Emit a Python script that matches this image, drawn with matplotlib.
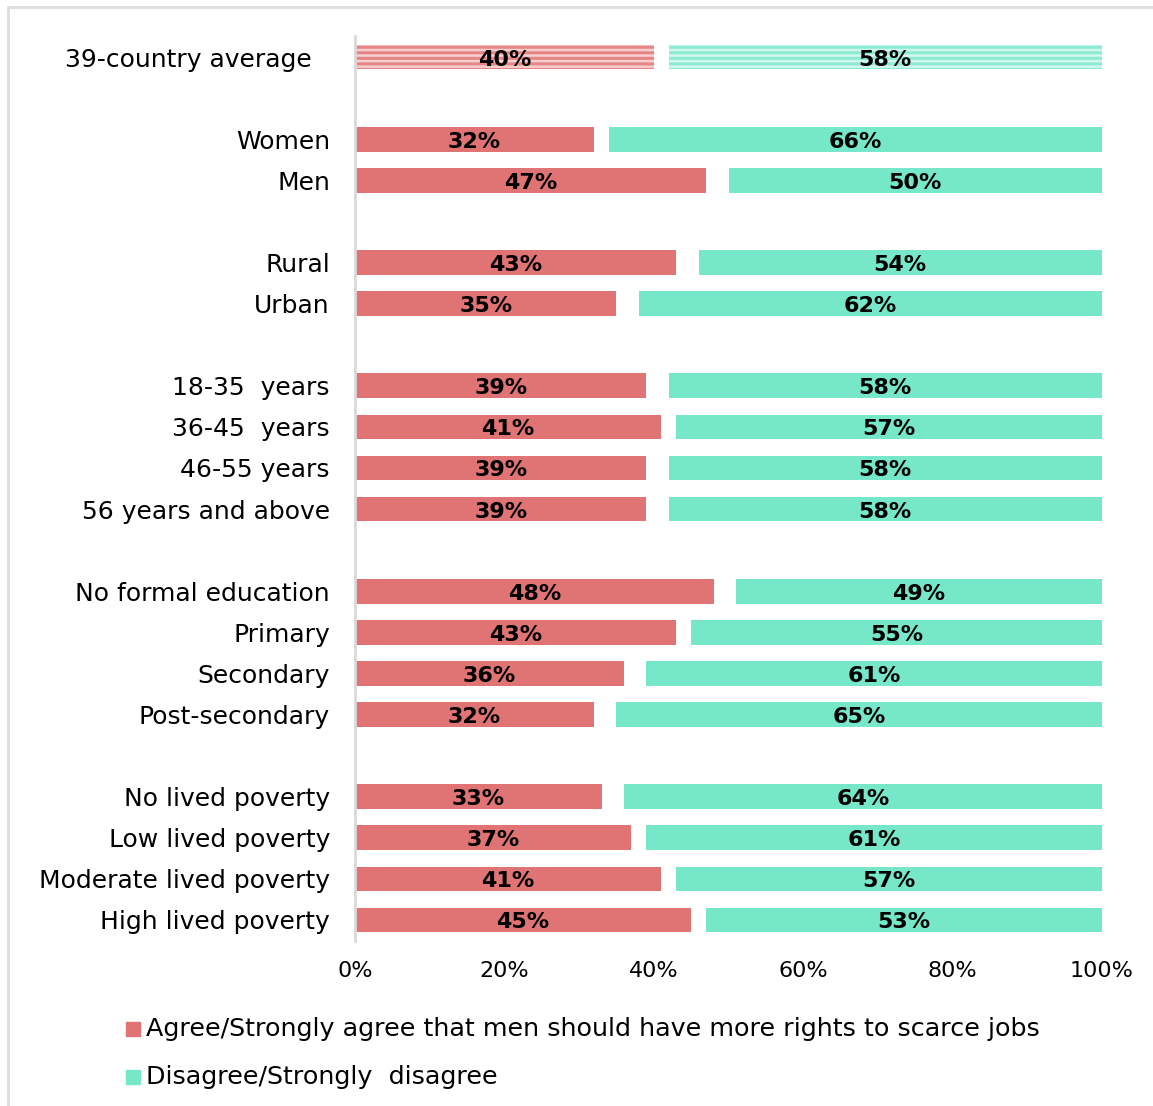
import matplotlib.pyplot as plt
from matplotlib.patches import Rectangle

# rows of the chart, top to bottom
categories = ["39-country average",
              "Women", "Men",
              "Rural", "Urban",
              "18-35  years", "36-45  years", "46-55 years", "56 years and above",
              "No formal education", "Primary", "Secondary", "Post-secondary",
              "No lived poverty", "Low lived poverty", "Moderate lived poverty", "High lived poverty"]
agree = [40, 32, 47, 43, 35, 39, 41, 39, 39, 48, 43, 36, 32, 33, 37, 41, 45]
disagree = [58, 66, 50, 54, 62, 58, 57, 58, 58, 49, 55, 61, 65, 64, 61, 57, 53]
# row slots, leaving an empty slot between groups
positions = [0, 2, 3, 5, 6, 8, 9, 10, 11, 13, 14, 15, 16, 18, 19, 20, 21]
ticks = [0, 20, 40, 60, 80, 100]
legend_labels = ["Agree/Strongly agree that men should have more rights to scarce jobs",
                 "Disagree/Strongly  disagree"]

red = "#E07373"
green = "#76E8C9"

plt.rcParams["font.family"] = ["DejaVu Sans"]
plt.rcParams["hatch.linewidth"] = 2.2

fig = plt.figure(figsize=(11.53, 11.06), dpi=100)
ax = fig.add_axes([355 / 1153, 1 - 940.5 / 1106, 747 / 1153, 904 / 1106])

# light frame round the whole chart
fig.patches.append(Rectangle((8 / 1153, -0.1), 1.2, 1 - 7 / 1106 + 0.1,
                             transform=fig.transFigure, fill=False,
                             edgecolor="#DDDDDD", linewidth=2))

h = 0.6
for i, (p, a, d) in enumerate(zip(positions, agree, disagree)):
    if i == 0:
        # average row is drawn striped
        ax.barh(p, a, height=h, color="#F8CFCF", edgecolor="#E58585", hatch="---", linewidth=0)
        ax.barh(p, d, left=100 - d, height=h, color="#D2F8EE", edgecolor="#8CEBD2", hatch="---", linewidth=0)
    else:
        ax.barh(p, a, height=h, color=red)
        ax.barh(p, d, left=100 - d, height=h, color=green)
    ax.text(a / 2, p + 0.06, f"{a}%", ha="center", va="center",
            fontsize=16, fontweight="bold")
    ax.text(100 - d / 2, p + 0.06, f"{d}%", ha="center", va="center",
            fontsize=16, fontweight="bold")

ax.set_xlim(0, 100)
ax.set_ylim(21.5, -0.5)
ax.set_xticks(ticks)
ax.set_xticklabels([f"{t}%" for t in ticks], fontsize=16, color="black")
ax.set_yticks(positions)
ax.set_yticklabels(categories, fontsize=18)
ax.tick_params(axis="both", length=0)
ax.tick_params(axis="y", pad=18)
ax.tick_params(axis="x", pad=15)
ax.get_yticklabels()[0].set_x(-0.025)
for s in ["top", "right", "bottom"]:
    ax.spines[s].set_visible(False)
ax.spines["left"].set_color("#D9D9D9")
ax.spines["left"].set_linewidth(2)

# legend, one entry per line
for k, (lab, c) in enumerate(zip(legend_labels, [red, green])):
    y = 1 - (1029 + 48 * k) / 1106
    fig.patches.append(Rectangle((126 / 1153, y - 7 / 1106), 14 / 1153, 14 / 1106,
                                 transform=fig.transFigure, color=c))
    fig.text(146 / 1153, y, lab, fontsize=18.3, va="center", ha="left")

fig.savefig("out.png", dpi=100)
